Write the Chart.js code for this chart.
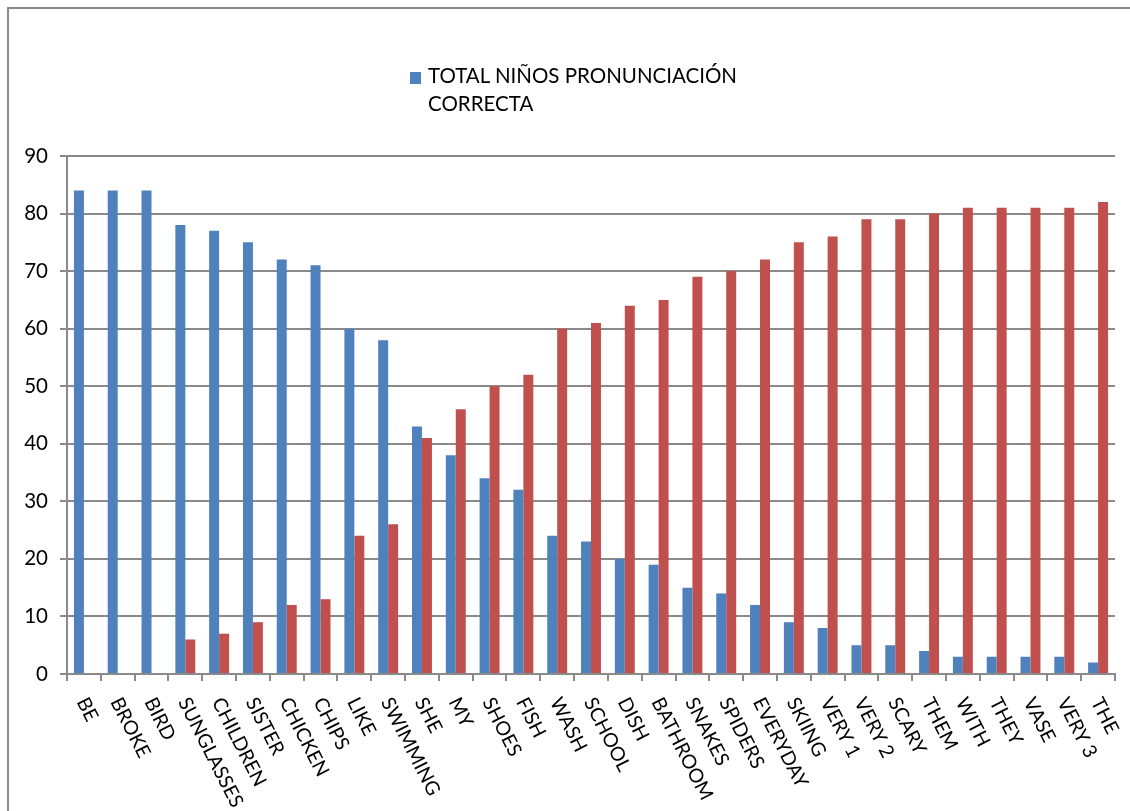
<!DOCTYPE html>
<html>
<head>
<meta charset="utf-8">
<script src="https://cdn.jsdelivr.net/npm/chart.js@4"></script>
<style>
  html, body { margin: 0; padding: 0; background: #fff; }
  #wrap { position: relative; width: 1130px; height: 811px; overflow: hidden; }
  #frame { position: absolute; left: 7px; top: 7px; width: 1200px; height: 900px;
           border-left: 2px solid #8a8a8a; border-top: 2px solid #8a8a8a; }
  #legend { position: absolute; left: 410px; top: 61px; font-family: Lato, sans-serif;
            font-size: 20.5px; line-height: 28px; color: #000; }
  #legend .sw { display: inline-block; width: 11px; height: 12px; background: #4F81BD;
                margin-right: 7px; vertical-align: -1px; }
  #legend .l2 { padding-left: 18px; }
  canvas { position: absolute; left: 0; top: 0; }
</style>
</head>
<body>
<div id="wrap">
  <div id="frame"></div>
  <canvas id="chart" width="1130" height="811"></canvas>
  <div id="legend"><div><span class="sw"></span>TOTAL NIÑOS PRONUNCIACIÓN</div><div class="l2">CORRECTA</div></div>
</div>
<script>
// words tested
const words = ['BE', 'BROKE', 'BIRD', 'SUNGLASSES', 'CHILDREN', 'SISTER', 'CHICKEN', 'CHIPS',
  'LIKE', 'SWIMMING', 'SHE', 'MY', 'SHOES', 'FISH', 'WASH', 'SCHOOL', 'DISH', 'BATHROOM',
  'SNAKES', 'SPIDERS', 'EVERYDAY', 'SKIING', 'VERY 1', 'VERY 2', 'SCARY', 'THEM', 'WITH',
  'THEY', 'VASE', 'VERY 3', 'THE'];

// correct pronunciation (blue)
const correcta = [84, 84, 84, 78, 77, 75, 72, 71, 60, 58, 43, 38, 34, 32, 24, 23, 20, 19,
  15, 14, 12, 9, 8, 5, 5, 4, 3, 3, 3, 3, 2];

// incorrect pronunciation (red)
const incorrecta = [0, 0, 0, 6, 7, 9, 12, 13, 24, 26, 41, 46, 50, 52, 60, 61, 64, 65,
  69, 70, 72, 75, 76, 79, 79, 80, 81, 81, 81, 81, 82];

const yTicks = [0, 10, 20, 30, 40, 50, 60, 70, 80, 90];

const gridColor = '#8a8a8a';

// x labels go down to the right, chart.js only rotates the other way
const slantedLabels = {
  id: 'slantedLabels',
  afterDraw(chart) {
    const x = chart.scales.x;
    const ctx = chart.ctx;
    const angle = 63 * Math.PI / 180;
    ctx.save();
    ctx.font = '19.5px Lato, sans-serif';
    ctx.fillStyle = '#000';
    ctx.textAlign = 'left';
    ctx.textBaseline = 'middle';
    chart.data.labels.forEach((lab, i) => {
      const px = x.getPixelForTick(i) - 2;
      const py = x.top + 25;
      ctx.save();
      ctx.translate(px, py);
      ctx.rotate(angle);
      ctx.fillText(lab, 0, 0);
      ctx.restore();
    });
    ctx.restore();
  }
};

const ctx = document.getElementById('chart').getContext('2d');
new Chart(ctx, {
  type: 'bar',
  data: {
    labels: words,
    datasets: [
      {
        label: 'TOTAL NIÑOS PRONUNCIACIÓN CORRECTA',
        data: correcta,
        backgroundColor: '#4F81BD',
        categoryPercentage: 0.59,
        barPercentage: 1.0
      },
      {
        label: 'TOTAL NIÑOS PRONUNCIACIÓN INCORRECTA',
        data: incorrecta,
        backgroundColor: '#C0504D',
        categoryPercentage: 0.59,
        barPercentage: 1.0
      }
    ]
  },
  options: {
    responsive: false,
    animation: false,
    layout: { padding: { left: 0, right: 15, top: 156, bottom: 0 } },
    plugins: {
      legend: { display: false },
      tooltip: { enabled: false }
    },
    scales: {
      x: {
        grid: { offset: true, drawOnChartArea: false, drawTicks: true, tickLength: 7, color: gridColor, lineWidth: 2 },
        border: { color: gridColor, width: 2 },
        ticks: { display: false },
        afterFit: (s) => { s.height = 137; }
      },
      y: {
        min: 0,
        max: 90,
        afterBuildTicks: (s) => { s.ticks = yTicks.map(v => ({ value: v })); },
        grid: { color: gridColor, lineWidth: 2, tickLength: 7 },
        border: { color: gridColor, width: 2 },
        ticks: {
          padding: 12,
          color: '#000',
          font: { family: 'Lato, sans-serif', size: 20.5 }
        },
        afterFit: (s) => { s.width = 67; }
      }
    }
  },
  plugins: [slantedLabels]
});
</script>
</body>
</html>
